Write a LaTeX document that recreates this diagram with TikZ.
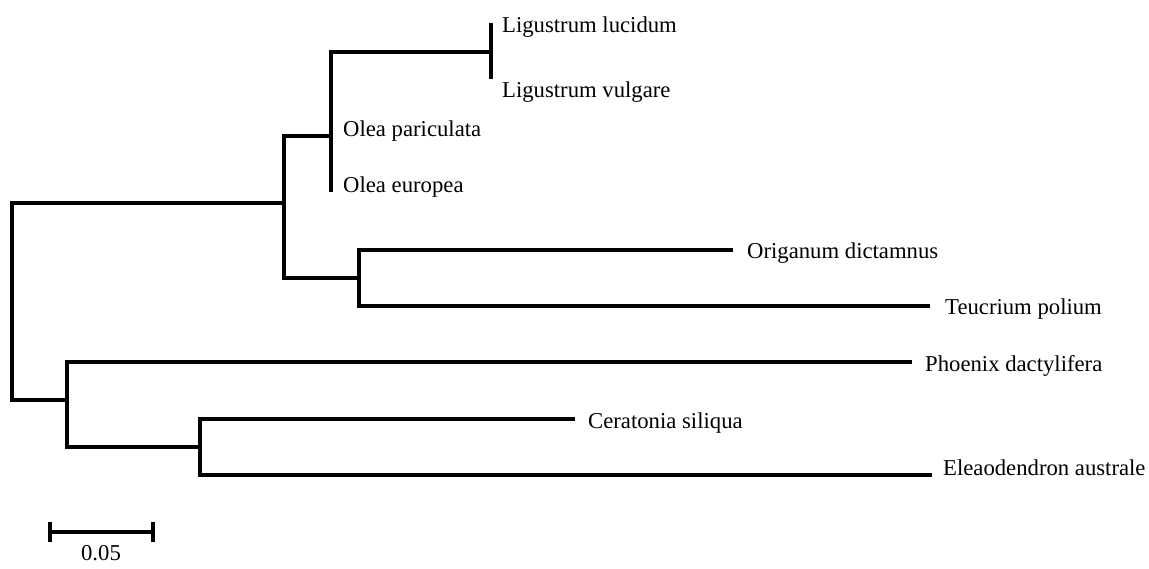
\documentclass[tikz,border=0pt]{standalone}
\usepackage{fontspec}
\setmainfont{Liberation Serif}
\begin{document}
\begin{tikzpicture}[x=1pt,y=-1pt,
  branch/.style={line width=3.2pt, line join=miter, line cap=butt},
  taxon/.style={anchor=base west, inner sep=0pt, font=\fontsize{22.7}{27}\selectfont},
  scalelabel/.style={anchor=base, inner sep=0pt, font=\fontsize{22.7}{27}\selectfont}]
\useasboundingbox (0,0) rectangle (1149,569);

% internal nodes (placed where the parent branch attaches)
\coordinate (root) at (12,301);
\coordinate (U)    at (284,203);
\coordinate (O)    at (331,136);
\coordinate (G)    at (491,52);
\coordinate (R)    at (359,278);
\coordinate (L)    at (67,400);
\coordinate (C)    at (200,447);

% tips
\coordinate (luc)  at (491,23);
\coordinate (vul)  at (491,79);
\coordinate (par)  at (331,129);
\coordinate (eur)  at (331,192);
\coordinate (ori)  at (733,250);
\coordinate (teu)  at (930,306);
\coordinate (pho)  at (912,362);
\coordinate (cer)  at (575,419);
\coordinate (ele)  at (932,475);

% branches
\draw[branch] (root) |- (U);
\draw[branch] (root) |- (L);
\draw[branch] (U) |- (O);
\draw[branch] (U) |- (R);
\draw[branch] (O) |- (G);
\draw[branch] (O) |- (par);
\draw[branch] (O) |- (eur);
\draw[branch] (G) |- (luc);
\draw[branch] (G) |- (vul);
\draw[branch] (R) |- (ori);
\draw[branch] (R) |- (teu);
\draw[branch] (L) |- (pho);
\draw[branch] (L) |- (C);
\draw[branch] (C) |- (cer);
\draw[branch] (C) |- (ele);

% taxon names
\node[taxon] (tluc) at (502,33)  {Ligustrum lucidum};
\node[taxon] (tvul) at (502,98)  {Ligustrum vulgare};
\node[taxon] (tpar) at (343,137) {Olea pariculata};
\node[taxon] (teur) at (343,193) {Olea europea};
\node[taxon] (tori) at (747,259) {Origanum dictamnus};
\node[taxon] (tteu) at (945,315) {Teucrium polium};
\node[taxon] (tpho) at (925,371) {Phoenix dactylifera};
\node[taxon] (tcer) at (588,428) {Ceratonia siliqua};
\node[taxon] (tele) at (943,475) {Eleaodendron australe};

% scale bar
\coordinate (sbL)  at (50,532);
\coordinate (sbR)  at (153,532);
\coordinate (sbLt) at (50,522);
\coordinate (sbLb) at (50,542);
\coordinate (sbRt) at (153,522);
\coordinate (sbRb) at (153,542);
\draw[branch] (sbL) -- (sbR);
\draw[branch] (sbLt) -- (sbLb);
\draw[branch] (sbRt) -- (sbRb);
\node[scalelabel] (sblab) at (101,560) {0.05};
\end{tikzpicture}
\end{document}
